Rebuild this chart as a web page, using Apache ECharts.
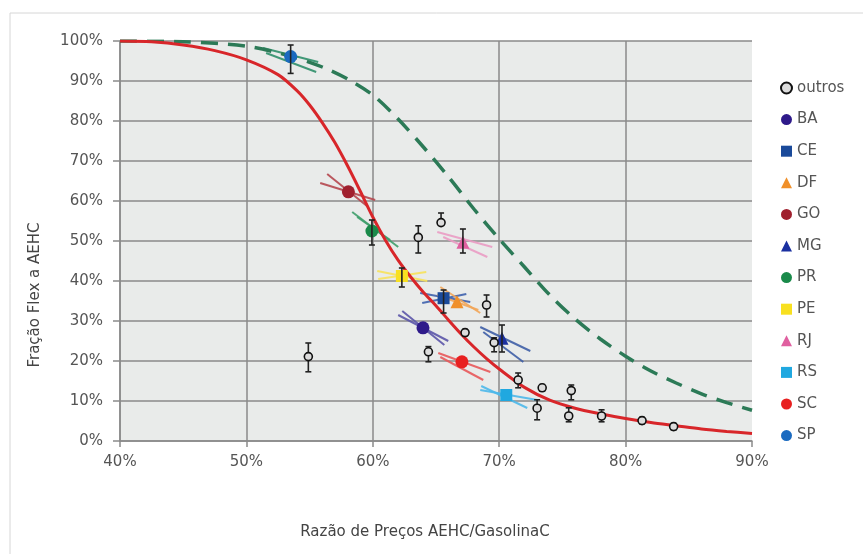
<!DOCTYPE html>
<html><head><meta charset="utf-8">
<script src="https://cdn.jsdelivr.net/npm/echarts@6/dist/echarts.min.js"></script>
<style>html,body{margin:0;padding:0;background:#fff}#c{width:863px;height:554px}</style>
</head><body><div id="c"></div>
<script>
// ---- data ----
const xTickStep = 10, xMin = 40, xMax = 90;
const yTickStep = 10, yMin = 0, yMax = 100;

const redX = [40, 42.5, 45, 47.5, 50, 52.5, 54, 55, 56, 57, 58, 59, 60, 61, 62, 63, 64, 65, 66, 67, 68, 69, 70, 72, 74, 76, 78, 80, 82, 84, 86, 88, 90];
const redY = [100, 99.8, 99.0, 97.6, 95.3, 91.6, 87.6, 84.0, 79.6, 74.6, 68.8, 62.5, 56.0, 50.2, 45.2, 41.0, 37.2, 33.8, 30.2, 26.7, 23.5, 20.6, 18.0, 13.4, 10.2, 8.2, 6.8, 5.6, 4.6, 3.8, 3.0, 2.4, 1.9];

const greenX = [40, 45, 50, 53.5, 56, 58, 60, 62, 64, 66, 68, 70, 72, 74, 76, 78, 80, 82, 84, 86, 88, 90];
const greenY = [100, 99.8, 98.7, 96.2, 93.5, 90.5, 86.5, 80.5, 73.5, 66, 58, 50.5, 43.5, 36.5, 30.5, 25.5, 21.2, 17.5, 14.5, 11.8, 9.6, 7.7];

const outrosX  = [54.9, 63.6, 65.4, 69.0, 64.4, 67.3, 69.6, 71.5, 73.4, 73.0, 75.7, 75.5, 78.1, 81.3, 83.8];
const outrosY  = [21.1, 50.9, 54.6, 34.0, 22.3, 27.1, 24.6, 15.25, 13.3, 8.2, 12.6, 6.25, 6.25, 5.1, 3.6];
const outrosLo = [17.3, 47.0, 54.5, 31.0, 19.8, 26.3, 22.3, 13.3, 12.5, 5.3, 10.3, 4.8, 4.8, 4.3, 2.8];
const outrosHi = [24.5, 53.8, 57.0, 36.5, 23.6, 27.9, 25.8, 17.0, 14.1, 10.3, 14.0, 8.3, 7.8, 5.9, 4.4];

const stateNames = ['BA', 'CE', 'DF', 'GO', 'MG', 'PR', 'PE', 'RJ', 'RS', 'SC', 'SP'];
const stateX  = [63.97, 65.6, 66.66, 58.07, 70.22, 59.93, 62.3, 67.13, 70.56, 67.05, 53.5];
const stateY  = [28.3, 35.7, 34.8, 62.3, 25.7, 52.5, 41.25, 49.7, 11.5, 19.8, 96.1];
const stateLo = [null, 32.0, null, null, 22.25, 49.0, 38.5, 47.0, null, null, 91.9];
const stateHi = [null, 37.75, null, null, 29.0, 55.25, 43.25, 53.0, null, null, 99.0];
// two slanted segments per state: [x1, y1, x2, y2]
const slopeA = [[62.01,31.5,65.97,25.0],[63.75,37.0,67.71,34.75],[65.34,38.5,68.50,32.0],[55.84,64.5,60.19,60.25],[68.50,28.5,72.46,22.5],[58.37,57.25,62.01,48.5],[60.35,42.5,64.31,40.0],[65.10,52.25,69.45,48.5],[68.50,12.75,73.02,10.25],[65.18,22.0,69.30,17.25],[51.32,98.25,55.68,94.75]];
const slopeB = [[62.33,32.5,65.66,24.0],[63.91,34.5,67.40,36.75],[65.10,36.5,68.35,32.75],[56.39,66.75,59.64,58.5],[68.74,27.25,71.91,19.75],[58.76,56.0,61.38,50.25],[60.43,40.5,64.23,42.25],[65.57,51.0,69.06,46.0],[68.58,13.75,72.22,8.25],[65.34,21.0,68.74,15.25],[51.56,97.0,55.52,92.25]];

// ---- styles ----
const stateColors = ['#2e1a8a', '#1a4a9a', '#f0902a', '#a0202e', '#1a30a0', '#1a8a4a', '#f8e020', '#e060a0', '#20a8e0', '#e82020', '#1a6ac0'];
const lineColors  = ['#5b55a8', '#3f62ad', '#f2a65a', '#b5474f', '#3e5ea6', '#3f9e6b', '#f7e25a', '#ea9cc4', '#4db8ea', '#e8585a', '#2f8f6a'];
const stateSymbols = ['circle', 'rect', 'triangle', 'circle', 'triangle', 'circle', 'rect', 'triangle', 'rect', 'circle', 'circle'];
const FONT = 'DejaVu Sans';

const chart = echarts.init(document.getElementById('c'), null, {renderer: 'canvas'});

const segData = [];
stateNames.forEach((n, i) => {
  segData.push(slopeA[i].concat([i]));
  segData.push(slopeB[i].concat([i]));
});
const errData = [];
outrosX.forEach((x, i) => errData.push([x, outrosLo[i], outrosHi[i]]));
stateX.forEach((x, i) => { if (stateLo[i] != null) errData.push([x, stateLo[i], stateHi[i]]); });

const series = [];
series.push({
  type: 'custom', name: 'seg', z: 2, silent: true,
  renderItem: (params, api) => {
    const p1 = api.coord([api.value(0), api.value(1)]);
    const p2 = api.coord([api.value(2), api.value(3)]);
    return {type: 'line', shape: {x1: p1[0], y1: p1[1], x2: p2[0], y2: p2[1]},
      style: {stroke: lineColors[api.value(4)], lineWidth: 2, opacity: 0.9}};
  },
  data: segData
});
series.push({
  type: 'line', name: 'green', z: 2, silent: true, showSymbol: false, smooth: 0.3,
  lineStyle: {color: '#2c7a57', width: 3.5, type: [17, 10]},
  data: greenX.map((x, i) => [x, greenY[i]])
});
series.push({
  type: 'line', name: 'red', z: 3, silent: true, showSymbol: false, smooth: 0.3,
  lineStyle: {color: '#d8262a', width: 3},
  data: redX.map((x, i) => [x, redY[i]])
});
series.push({
  type: 'custom', name: 'err', z: 5, silent: true,
  renderItem: (params, api) => {
    const a = api.coord([api.value(0), api.value(1)]);
    const b = api.coord([api.value(0), api.value(2)]);
    const w = 3;
    return {type: 'group', children: [
      {type: 'line', shape: {x1: a[0], y1: a[1], x2: b[0], y2: b[1]}, style: {stroke: '#222', lineWidth: 1.6}},
      {type: 'line', shape: {x1: a[0]-w, y1: a[1], x2: a[0]+w, y2: a[1]}, style: {stroke: '#222', lineWidth: 1.6}},
      {type: 'line', shape: {x1: b[0]-w, y1: b[1], x2: b[0]+w, y2: b[1]}, style: {stroke: '#222', lineWidth: 1.6}}
    ]};
  },
  data: errData
});
series.push({
  type: 'scatter', name: 'outros', z: 6, symbol: 'circle', symbolSize: 8,
  itemStyle: {color: '#dcdcdc', borderColor: '#111', borderWidth: 1.6, opacity: 1},
  data: outrosX.map((x, i) => [x, outrosY[i]])
});
stateNames.forEach((n, i) => {
  series.push({
    type: 'scatter', name: n, z: 4, symbol: stateSymbols[i],
    symbolSize: stateSymbols[i] === 'rect' ? 12 : 13,
    itemStyle: {color: stateColors[i], opacity: 1},
    data: [[stateX[i], stateY[i]]]
  });
});

const legendData = [{name: 'outros', icon: 'circle'}]
  .concat(stateNames.map((n, i) => ({name: n, icon: stateSymbols[i]})));

chart.setOption({
  animation: false,
  backgroundColor: '#fff',
  grid: {left: 120, top: 41, width: 632, height: 400, show: true, backgroundColor: '#e9ebea', borderWidth: 0},
  xAxis: {
    type: 'value', min: xMin, max: xMax, interval: xTickStep,
    axisLine: {show: true, lineStyle: {color: '#8a8a8a', width: 1.5}},
    axisTick: {show: true, length: 6, lineStyle: {color: '#8a8a8a', width: 1.5}},
    splitLine: {show: true, showMaxLine: false, lineStyle: {color: '#8a8a8a', width: 1.5}},
    axisLabel: {margin: 14, fontSize: 15, color: '#555', fontFamily: FONT, formatter: '{value}%'}
  },
  yAxis: {
    type: 'value', min: yMin, max: yMax, interval: yTickStep,
    axisLine: {show: true, lineStyle: {color: '#8a8a8a', width: 1.5}},
    axisTick: {show: true, length: 7, lineStyle: {color: '#8a8a8a', width: 1.5}},
    splitLine: {show: true, lineStyle: {color: '#8a8a8a', width: 1.5}},
    axisLabel: {margin: 17, fontSize: 15, color: '#555', fontFamily: FONT, formatter: '{value}%'}
  },
  legend: {
    orient: 'vertical', left: 780, top: 80, padding: 0,
    itemWidth: 11, itemHeight: 11, itemGap: 15.6,
    textStyle: {fontSize: 15, color: '#555', fontFamily: FONT, lineHeight: 16},
    data: legendData
  },
  graphic: [
    {type: 'line', shape: {x1: 10, y1: 13, x2: 863, y2: 13}, style: {stroke: '#d6d6d6', lineWidth: 1}},
    {type: 'line', shape: {x1: 10, y1: 13, x2: 10, y2: 554}, style: {stroke: '#d6d6d6', lineWidth: 1}},
    {type: 'text', x: 35, y: 295, rotation: Math.PI / 2,
      style: {text: 'Fração Flex a AEHC', fontSize: 15, fill: '#444', fontFamily: FONT, align: 'center', verticalAlign: 'middle'}},
    {type: 'text', x: 425, y: 532,
      style: {text: 'Razão de Preços AEHC/GasolinaC', fontSize: 15, fill: '#444', fontFamily: FONT, align: 'center', verticalAlign: 'middle'}}
  ],
  series: series
});
</script>
</body></html>
